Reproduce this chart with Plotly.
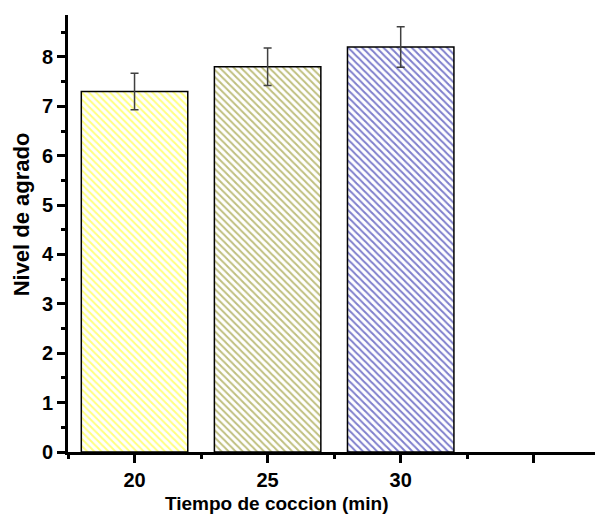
import plotly.graph_objects as go

categories = ["20", "25", "30"]
positions = [1, 2, 3]
values = [7.3, 7.8, 8.2]
errors = [0.37, 0.38, 0.41]
colors = ["#FFFF00", "#808000", "#000099"]
tick_vals = [1, 2, 3, 4]
tick_text = ["20", "25", "30", ""]

fig = go.Figure()
for p, v, e, c in zip(positions, values, errors, colors):
    fig.add_trace(go.Bar(
        x=[p], y=[v], width=0.8,
        marker=dict(color="white", line=dict(color="black", width=1.5),
                    pattern=dict(shape="\\", fgcolor=c, bgcolor="white", size=5, solidity=0.4)),
        error_y=dict(type="data", array=[e], visible=True, color="#404040", thickness=1.5, width=4),
        showlegend=False,
    ))

font_t = dict(family="Liberation Sans, Arial", size=20, color="black", weight="bold")
font_x = dict(family="Liberation Sans, Arial", size=19, color="black", weight="bold")
font_y = dict(family="Liberation Sans, Arial", size=22, color="black", weight="bold")

fig.update_layout(
    width=595, height=515,
    margin=dict(l=68, r=0, t=15, b=63),
    paper_bgcolor="white", plot_bgcolor="white",
    xaxis=dict(range=[0.5, 4.46], tickmode="array", tickvals=tick_vals, ticktext=tick_text,
               showline=True, linecolor="black", linewidth=3, ticks="outside", ticklen=8,
               tickwidth=3, tickcolor="black", showgrid=False, zeroline=False, tickfont=font_t,
               minor=dict(tickmode="linear", tick0=0.5, dtick=1, ticks="outside", ticklen=4,
                          tickwidth=3, tickcolor="black")),
    yaxis=dict(range=[0, 8.85], tickmode="linear", tick0=0, dtick=1,
               showline=True, linecolor="black", linewidth=3, ticks="outside", ticklen=8,
               tickwidth=3, tickcolor="black", showgrid=False, zeroline=False, tickfont=font_t,
               minor=dict(tickmode="linear", tick0=0, dtick=0.5, ticks="outside", ticklen=4,
                          tickwidth=3, tickcolor="black")),
    annotations=[
        dict(text="Tiempo de coccion (min)", xref="paper", yref="paper", x=0.395, y=-0.117,
             xanchor="center", yanchor="middle", showarrow=False, font=font_x),
        dict(text="Nivel de agrado", xref="paper", yref="paper", x=-0.089, y=0.544,
             xanchor="center", yanchor="middle", showarrow=False, textangle=-90, font=font_y),
    ],
)

fig.write_html("out.html")
